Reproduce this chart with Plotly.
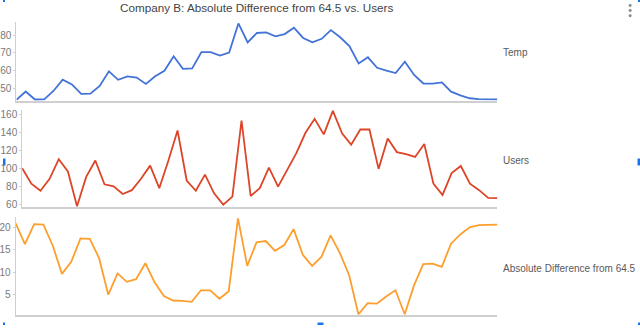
import plotly.graph_objects as go

# Daily readings, one entry per day
temp = [43.5, 48.2, 43.7, 43.8, 48.5, 54.9, 52.2, 46.9, 47.0, 51.3,
        59.6, 54.8, 56.7, 56.1, 52.5, 56.8, 59.9, 68.1, 61.0, 61.2,
        70.4, 70.4, 68.5, 70.2, 86.6, 75.9, 81.2, 81.5, 79.3, 80.6,
        84.2, 78.4, 75.9, 77.9, 82.8, 78.8, 73.8, 64.0, 67.5, 61.6,
        60.0, 58.6, 65.0, 57.5, 52.7, 52.6, 53.3, 48.1, 46.0, 44.4,
        43.9, 43.8, 43.8]

users = [100.7, 83.6, 75.7, 89.0, 110.7, 97.1, 58.6, 91.1, 109.3, 82.9,
         80.7, 72.1, 76.4, 89.0, 103.6, 78.6, 109.3, 142.5, 87.1, 75.7,
         93.6, 72.9, 60.4, 69.3, 153.6, 70.0, 78.6, 101.4, 80.4, 99.6,
         117.5, 140.0, 155.4, 138.2, 164.3, 139.3, 126.8, 143.6, 143.6, 100.0,
         133.6, 118.6, 116.4, 113.2, 127.5, 83.6, 71.1, 95.4, 103.2, 83.6,
         76.4, 67.9, 67.5]

abs_diff = [21.0, 16.3, 20.8, 20.7, 16.0, 9.6, 12.3, 17.6, 17.5, 13.2,
            4.9, 9.7, 7.8, 8.4, 12.0, 7.7, 4.6, 3.6, 3.5, 3.3,
            5.9, 5.9, 4.0, 5.7, 22.1, 11.4, 16.7, 17.0, 14.8, 16.1,
            19.7, 13.9, 11.4, 13.4, 18.3, 14.3, 9.3, 0.5, 3.0, 2.9,
            4.5, 5.9, 0.5, 7.0, 11.8, 11.9, 11.2, 16.4, 18.5, 20.1,
            20.6, 20.7, 20.7]

series_names = ["Temp", "Users", "Absolute Difference from 64.5"]
temp_ticks = [50, 60, 70, 80]
users_ticks = [60, 80, 100, 120, 140, 160]
abs_ticks = [5, 10, 15, 20]
title_text = "Company B: Absolute Difference from 64.5 vs. Users"

W, H = 640, 328
days = list(range(len(temp)))

colors = ["#4373d8", "#dd4529", "#fc9f2e"]
panels = [
    # values, ticks, x-left px, y-top px, y-bottom px, label y px
    (temp, temp_ticks, 13.5, 22.7, 101.7, 53),
    (users, users_ticks, 19.3, 110.7, 209.3, 162),
    (abs_diff, abs_ticks, 12.7, 219.3, 318.3, 271),
]
x_right = 496.7

fig = go.Figure()
for k, (vals, ticks, xl, yt, yb, ly) in enumerate(panels):
    n = "" if k == 0 else str(k + 1)
    fig.add_trace(go.Scatter(
        x=days, y=vals, mode="lines", name=series_names[k],
        line=dict(color=colors[k], width=1.8),
        xaxis="x" + n, yaxis="y" + n, showlegend=False,
    ))
    lo, hi = min(vals), max(vals)
    pad = (hi - lo) * 0.012
    fig.layout["xaxis" + n] = dict(
        domain=[xl / W, x_right / W], range=[0, len(vals) - 1],
        showticklabels=False, showgrid=False, zeroline=False,
        showline=True, linecolor="#cfcfcf", linewidth=1.5,
        anchor="y" + n, fixedrange=True,
    )
    fig.layout["yaxis" + n] = dict(
        domain=[1 - yb / H, 1 - yt / H], range=[lo - pad, hi + pad],
        tickvals=ticks, showgrid=False, zeroline=False,
        showline=True, linecolor="#cfcfcf", linewidth=1,
        ticks="outside", ticklen=2, tickcolor="#cfcfcf",
        tickfont=dict(family="Liberation Sans, Arial", size=10, color="#7a7a7a"),
        anchor="x" + n, fixedrange=True,
    )
    # series label to the right of its panel
    fig.add_annotation(
        x=500 / W, y=1 - ly / H, xref="paper", yref="paper",
        text=series_names[k], showarrow=False, xanchor="left", yanchor="middle",
        font=dict(family="Liberation Sans, Arial", size=10, color="#5a5a5a"),
    )

fig.add_annotation(
    x=255 / W, y=1 - 8 / H, xref="paper", yref="paper", text=title_text,
    showarrow=False, xanchor="center", yanchor="middle",
    font=dict(family="Liberation Sans, Arial", size=11.7, color="#444444"),
)

# chart menu dots
for cy in (5.5, 10.7, 15.8):
    fig.add_shape(type="circle", xref="paper", yref="paper",
                  x0=628.6 / W, x1=631.6 / W, y0=1 - (cy + 1.5) / H, y1=1 - (cy - 1.5) / H,
                  fillcolor="#8a8a8a", line=dict(width=0))

# selection handles around the chart frame
handles = [(0, 0, 2, 2), (638, 0, 640, 2), (0, 160, 2.5, 167), (637.5, 160, 640, 167),
           (316, 325.5, 322, 328), (0, 325.5, 2, 328), (638, 325.5, 640, 328)]
for x0, y0, x1, y1 in handles:
    fig.add_shape(type="rect", xref="paper", yref="paper",
                  x0=x0 / W, x1=x1 / W, y0=1 - y1 / H, y1=1 - y0 / H,
                  fillcolor="#1a73e8", line=dict(width=0))

fig.update_layout(
    width=W, height=H, margin=dict(l=0, r=0, t=0, b=0),
    paper_bgcolor="white", plot_bgcolor="white",
    font=dict(family="Liberation Sans, Arial"),
)

fig.write_html("out.html", config={"displayModeBar": False})
